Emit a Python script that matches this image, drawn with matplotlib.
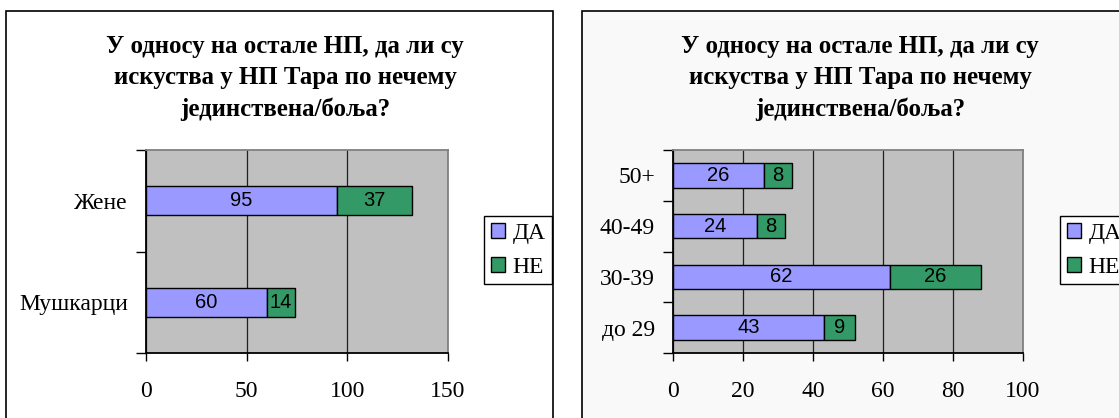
import numpy as np
import matplotlib
matplotlib.use("Agg")
import matplotlib.pyplot as plt
from matplotlib.patches import Rectangle
from matplotlib.ticker import FixedLocator

# Data
TITLE = "У односу на остале НП, да ли су\nискуства у НП Тара по нечему\nјединствена/боља?"
SERIES = ["ДА", "НЕ"]

gender_labels = ["Мушкарци", "Жене"]
gender_da = [60, 95]
gender_ne = [14, 37]

age_labels = ["до 29", "30-39", "40-49", "50+"]
age_da = [43, 62, 24, 26]
age_ne = [9, 26, 8, 8]

# Style
W, H = 1119, 418
COL_DA = "#9999ff"
COL_NE = "#339966"
PLOT_BG = "#c0c0c0"
SERIF = "Liberation Serif"
SANS = "Liberation Sans"


def fx(px):
    return px / W


def fy(py):
    return 1 - py / H


def draw_chart(fig, box, plot, labels, da, ne, xmax, xstep, bar_h, legend_x, box_color, title_x):
    # chart frame
    x0, y0, x1, y1 = box
    fig.patches.append(Rectangle((fx(x0), fy(y1)), fx(x1) - fx(x0), fy(y0) - fy(y1),
                                 transform=fig.transFigure, facecolor=box_color,
                                 edgecolor="black", linewidth=1.2, zorder=-5))
    fig.text(fx(title_x), fy(78), TITLE, ha="center", va="center", fontsize=17.9,
             fontweight="bold", family=SERIF, linespacing=1.46)

    px0, py0, px1, py1 = plot
    ax = fig.add_axes([fx(px0), fy(py1), fx(px1) - fx(px0), fy(py0) - fy(py1)])
    ax.set_facecolor(PLOT_BG)

    y = np.arange(len(labels))
    b1 = ax.barh(y, da, height=bar_h, color=COL_DA, edgecolor="black", linewidth=1, label=SERIES[0], zorder=3)
    b2 = ax.barh(y, ne, left=da, height=bar_h, color=COL_NE, edgecolor="black", linewidth=1, label=SERIES[1], zorder=3)
    ax.bar_label(b1, label_type="center", fontsize=14.5, family=SANS, zorder=4)
    ax.bar_label(b2, label_type="center", fontsize=14.5, family=SANS, zorder=4)

    ax.set_xlim(0, xmax)
    ax.set_ylim(-0.5, len(labels) - 0.5)
    ax.set_xticks(np.arange(0, xmax + 1, xstep))
    ax.set_yticks(y)
    ax.set_yticklabels(labels)
    ax.yaxis.set_minor_locator(FixedLocator(np.arange(-0.5, len(labels), 1.0)))
    ax.tick_params(axis="y", which="major", length=0, pad=13, labelsize=17)
    ax.tick_params(axis="y", which="minor", length=7, width=1, direction="out")
    ax.tick_params(axis="x", length=6, width=1, direction="out", pad=14, labelsize=17)
    for t in ax.get_xticklabels() + ax.get_yticklabels():
        t.set_family(SERIF)

    ax.grid(axis="x", color="#202020", linewidth=0.9, zorder=1)
    ax.set_axisbelow(True)
    for s in ["left", "bottom"]:
        ax.spines[s].set_color("black")
        ax.spines[s].set_linewidth(1.3)
    for s in ["top", "right"]:
        ax.spines[s].set_color("#808080")
        ax.spines[s].set_linewidth(1.3)

    leg = ax.legend(loc="upper left", bbox_to_anchor=(fx(legend_x), fy(216)),
                    bbox_transform=fig.transFigure, prop={"family": SERIF, "size": 17},
                    fancybox=False, framealpha=1, edgecolor="black", handlelength=0.62,
                    handleheight=0.62, handletextpad=0.3, borderpad=0.28, labelspacing=0.55,
                    borderaxespad=0)
    leg.get_frame().set_linewidth(1)
    return ax


fig = plt.figure(figsize=(W / 100, H / 100), dpi=100)
fig.patch.set_facecolor("white")

draw_chart(fig, (6, 11, 553, 430), (146, 150, 448, 353), gender_labels, gender_da, gender_ne,
           150, 50, 0.286, 484, "white", 285)
draw_chart(fig, (582, 11, 1140, 430), (673, 150, 1023, 353), age_labels, age_da, age_ne,
           100, 20, 0.48, 1060, "#f9f9f9", 860)

fig.savefig("out.png", dpi=100)
